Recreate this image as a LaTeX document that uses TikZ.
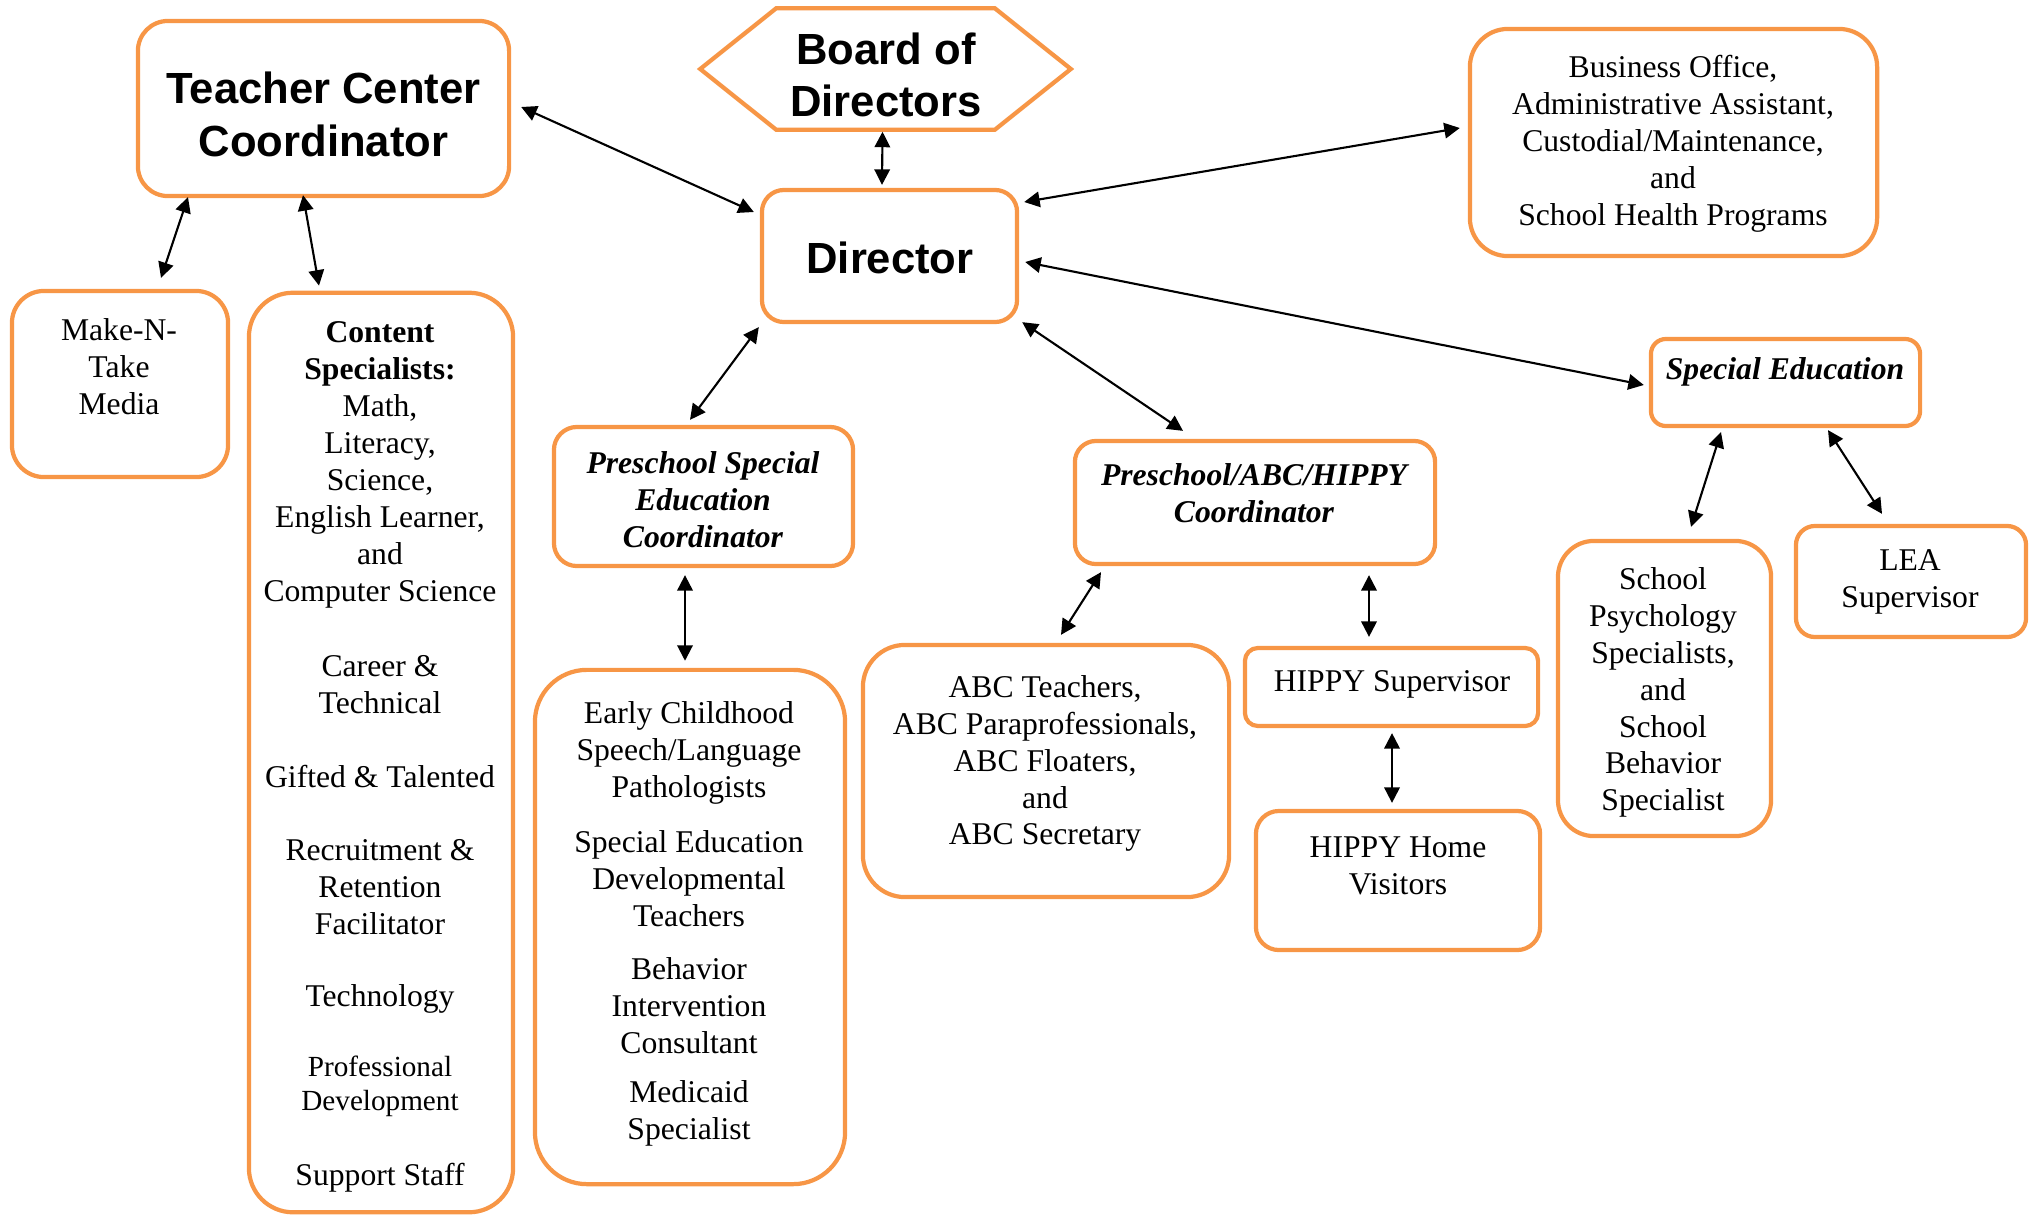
\documentclass[tikz,border=0pt]{standalone}
\usepackage{fontspec}
\setmainfont{Liberation Serif}
\newfontfamily\headfont{Liberation Sans}
\usetikzlibrary{calc,arrows.meta}
\definecolor{boxorange}{HTML}{F79646}
\begin{document}
\begin{tikzpicture}[x=0.01cm,y=-0.01cm,
  box/.style={draw=boxorange, line width=1.2pt, fill=white, inner sep=0},
  txt/.style={align=center, inner sep=0, yshift=-0.035cm, font=\fontsize{9}{10.5}\selectfont},
  small/.style={align=center, inner sep=0, yshift=-0.03cm, font=\fontsize{8.3}{9.7}\selectfont},
  ttl/.style={align=center, inner sep=0, font=\fontsize{9}{10.5}\selectfont\bfseries\itshape},
  head/.style={align=center, inner sep=0, font=\headfont\bfseries\fontsize{12.4}{15}\selectfont},
  tip/.tip={Triangle[length=4.4pt,width=4.4pt]},
  conn/.style={tip-tip, line width=0.6pt, black},
]
\useasboundingbox (0,0) rectangle (2034,1218);

% boxes
\node[box, minimum width=3.71cm, minimum height=1.75cm, rounded corners=0.30cm] (tc) at (323.5,108.5) {};
\node[inner sep=0, minimum width=3.69cm, minimum height=1.20cm] (board) at (885.5,69) {};
\draw[boxorange, line width=1.2pt, fill=white] (board.west) -- ($(board.north west)+(76,0)$) -- ($(board.north east)+(-76,0)$) -- (board.east) -- ($(board.south east)+(-76,0)$) -- ($(board.south west)+(76,0)$) -- cycle;
\node[box, minimum width=2.55cm, minimum height=1.32cm, rounded corners=0.22cm] (dir) at (889.5,256) {};
\node[box, minimum width=4.07cm, minimum height=2.27cm, rounded corners=0.38cm] (bus) at (1673.5,142.5) {};
\node[box, minimum width=2.16cm, minimum height=1.86cm, rounded corners=0.32cm] (mnt) at (120,384) {};
\node[box, minimum width=2.64cm, minimum height=9.19cm, rounded corners=0.44cm] (cs) at (381,752.5) {};
\node[box, minimum width=2.99cm, minimum height=1.39cm, rounded corners=0.23cm] (pse) at (703.5,496.5) {};
\node[box, minimum width=3.10cm, minimum height=5.14cm, rounded corners=0.52cm] (ec) at (690,927) {};
\node[box, minimum width=3.60cm, minimum height=1.23cm, rounded corners=0.21cm] (pah) at (1255,502.5) {};
\node[box, minimum width=3.66cm, minimum height=2.52cm, rounded corners=0.42cm] (abc) at (1046,771) {};
\node[box, minimum width=2.93cm, minimum height=0.78cm, rounded corners=0.13cm] (hs) at (1391.5,687) {};
\node[box, minimum width=2.84cm, minimum height=1.39cm, rounded corners=0.23cm] (hh) at (1398,880.5) {};
\node[box, minimum width=2.69cm, minimum height=0.87cm, rounded corners=0.15cm] (se) at (1785.5,382.5) {};
\node[box, minimum width=2.13cm, minimum height=2.95cm, rounded corners=0.36cm] (sp) at (1664.5,688.5) {};
\node[box, minimum width=2.30cm, minimum height=1.11cm, rounded corners=0.19cm] (lea) at (1911,581.5) {};

% texts
\node[head] (tct) at (323.5,114.5) {Teacher Center\\Coordinator};
\node[head] (bt) at (886,75) {Board of\\Directors};
\node[head] (dt) at (890,258) {Director};
\node[txt] (bust) at (1673,140) {Business Office,\\Administrative Assistant,\\Custodial/Maintenance,\\and\\School Health Programs};
\node[txt] (mntt) at (119,363) {Make-N-\\Take\\Media};
\node[txt] (cs1) at (380,461.5) {\textbf{Content}\\\textbf{Specialists:}\\Math,\\Literacy,\\Science,\\English Learner,\\and\\Computer Science};
\node[txt] (cs2) at (380,681.5) {Career \&\\Technical};
\node[txt] (cs3) at (380,773) {Gifted \& Talented};
\node[txt] (cs4) at (380,884) {Recruitment \&\\Retention\\Facilitator};
\node[txt] (cs5) at (380,995) {Technology};
\node[small] (cs6) at (380,1083) {Professional\\Development};
\node[txt] (cs7) at (380,1174) {Support Staff};
\node[ttl] (pset) at (703,499.5) {Preschool Special\\Education\\Coordinator};
\node[txt] (ec1) at (689,749) {Early Childhood\\Speech/Language\\Pathologists};
\node[txt] (ec2) at (689,875.5) {Special Education\\Developmental\\Teachers};
\node[txt] (ec3) at (689,1002) {Behavior\\Intervention\\Consultant};
\node[txt] (ec4) at (689,1109.5) {Medicaid\\Specialist};
\node[ttl] (paht) at (1254,493) {Preschool/ABC/HIPPY\\Coordinator};
\node[txt] (abct) at (1045,760) {ABC Teachers,\\ABC Paraprofessionals,\\ABC Floaters,\\and\\ABC Secretary};
\node[txt] (hst) at (1392,681) {HIPPY Supervisor};
\node[txt] (hht) at (1398,862) {HIPPY Home\\Visitors};
\node[ttl] (set) at (1785,372) {Special Education};
\node[txt] (spt) at (1663,689) {School\\Psychology\\Specialists,\\and\\School\\Behavior\\Specialist};
\node[txt] (leat) at (1910,578) {LEA\\Supervisor};

% connectors
\draw[conn] ($(tc.east)+(10,-1.5)$) -- ($(dir.west)+(-6,-44)$);
\draw[conn] ($(board.south)+(-3,2)$) -- ($(dir.north)+(-7.5,-3)$);
\draw[conn] ($(dir.east)+(5,-54)$) -- ($(bus.west)+(-8,-14.5)$);
\draw[conn] ($(dir.east)+(6,6)$) -- ($(se.west)+(-5,2.5)$);
\draw[conn] ($(dir.south east)+(3,-2)$) -- ($(pah.north)+(-72,-8)$);
\draw[conn] ($(dir.south west)+(-1,3)$) -- ($(pse.north)+(-13.5,-5)$);
\draw[conn] ($(tc.south)+(-135.5,-1)$) -- ($(mnt.north)+(41,-11)$);
\draw[conn] ($(tc.south)+(-20.5,-3)$) -- ($(cs.north)+(-62,-5)$);
\draw[conn] ($(pse.south)+(-18.5,7)$) -- ($(ec.north)+(-5,-7)$);
\draw[conn] ($(pah.south)+(-154,6)$) -- ($(abc.north)+(15,-8)$);
\draw[conn] ($(pah.south)+(114,9)$) -- ($(hs.north)+(-22.5,-9)$);
\draw[conn] ($(hs.south)+(0.5,5)$) -- ($(hh.north)+(-6,-6)$);
\draw[conn] ($(se.south)+(-64.5,4)$) -- ($(sp.north)+(26.5,-12)$);
\draw[conn] ($(se.south)+(42.5,2)$) -- ($(lea.north)+(-29,-10)$);
\end{tikzpicture}
\end{document}
